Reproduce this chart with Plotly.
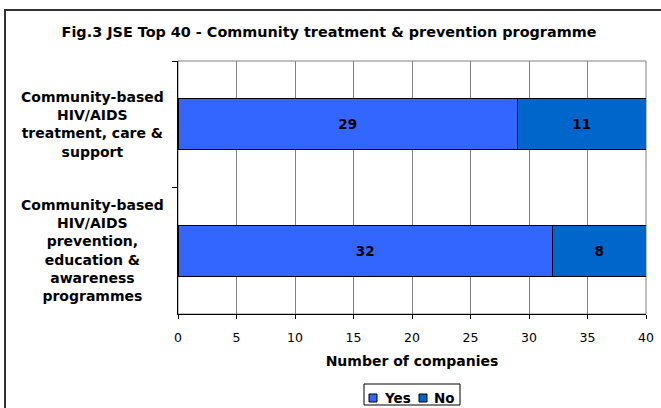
import plotly.graph_objects as go

categories = [
    "Community-based<br>HIV/AIDS<br>treatment, care &<br>support",
    "Community-based<br>HIV/AIDS<br>prevention,<br>education &<br>awareness<br>programmes",
]
yes_values = [29, 32]
no_values = [11, 8]
series_names = ["Yes", "No"]
series_colors = ["#3366FF", "#0066CC"]
x_ticks = [0, 5, 10, 15, 20, 25, 30, 35, 40]

FONT = "DejaVu Sans"
W, H = 661, 408
L, R, T, B = 178, 15, 61, 94
PW, PH = W - L - R, H - T - B


def px(x):
    return (x - L) / PW


def py(y):
    return (H - B - y) / PH


fig = go.Figure()
for name, vals, color in zip(series_names, [yes_values, no_values], series_colors):
    fig.add_trace(go.Bar(
        y=categories, x=vals, name=name, orientation="h",
        marker=dict(color=color, line=dict(color="black", width=1)),
        texttemplate="<b>%{x}</b>", textposition="inside",
        insidetextanchor="middle",
        textfont=dict(family=FONT, size=13.5, color="black"),
        showlegend=False,
    ))

fig.update_layout(
    width=W, height=H,
    margin=dict(l=L, r=R, t=T, b=B, autoexpand=False),
    paper_bgcolor="white", plot_bgcolor="white",
    barmode="stack", bargap=0.6,
    font=dict(family=FONT, color="black"),
    title=dict(text="<b>Fig.3 JSE Top 40 - Community treatment & prevention programme</b>",
               font=dict(family=FONT, size=14.4, color="black"),
               x=329 / W, xanchor="center", xref="container",
               y=1 - 32 / H, yanchor="middle", yref="container"),
    uniformtext=dict(mode="show", minsize=8),
)

fig.update_xaxes(
    range=[0, 40], tickvals=x_ticks, ticks="outside", ticklen=4,
    tickcolor="black", showline=True, linecolor="black", linewidth=1,
    showgrid=True, gridcolor="#808080", gridwidth=1, zeroline=False,
    tickfont=dict(family=FONT, size=12.5, color="black"), ticklabelstandoff=8,
    automargin=False,
    title=dict(text="<b>Number of companies</b>",
               font=dict(family=FONT, size=14, color="black"), standoff=12),
)
fig.update_yaxes(
    categoryorder="array", categoryarray=categories, autorange="reversed",
    showticklabels=False, ticks="outside", ticklen=5, tickcolor="black",
    tickson="boundaries", showline=True, linecolor="black", linewidth=1,
    showgrid=False, zeroline=False, automargin=False,
)

# plot area frame (gray top/right)
fig.add_shape(type="rect", xref="paper", yref="paper", x0=0, x1=1, y0=0, y1=1,
              line=dict(color="#808080", width=1), layer="below")

# category labels, centred text
for c in categories:
    fig.add_annotation(text="<b>" + c + "</b>", xref="paper", yref="y",
                       x=px(92), y=c, xanchor="center",
                       yanchor="middle", align="center", showarrow=False,
                       font=dict(family=FONT, size=14, color="black"))

# legend (compact, boxed)
fig.add_shape(type="rect", xref="paper", yref="paper",
              x0=px(364), x1=px(460), y0=py(405), y1=py(384),
              line=dict(color="black", width=1), fillcolor="white")
legend_sq = [369, 419]
legend_tx = [382, 432]
for name, color, sx, tx in zip(series_names, series_colors, legend_sq, legend_tx):
    fig.add_shape(type="rect", xref="paper", yref="paper",
                  x0=px(sx), x1=px(sx + 8), y0=py(402), y1=py(394),
                  line=dict(color="black", width=1), fillcolor=color)
    fig.add_annotation(text="<b>" + name + "</b>", xref="paper", yref="paper",
                       x=px(tx), y=py(398), xanchor="left", yanchor="middle",
                       showarrow=False,
                       font=dict(family=FONT, size=13.5, color="black"))

# outer chart frame (cropped at right and bottom)
fig.add_shape(type="rect", xref="paper", yref="paper",
              x0=px(5), x1=px(W + 20), y0=py(H + 20), y1=py(10),
              line=dict(color="#333333", width=2))

fig.write_html("out.html")
